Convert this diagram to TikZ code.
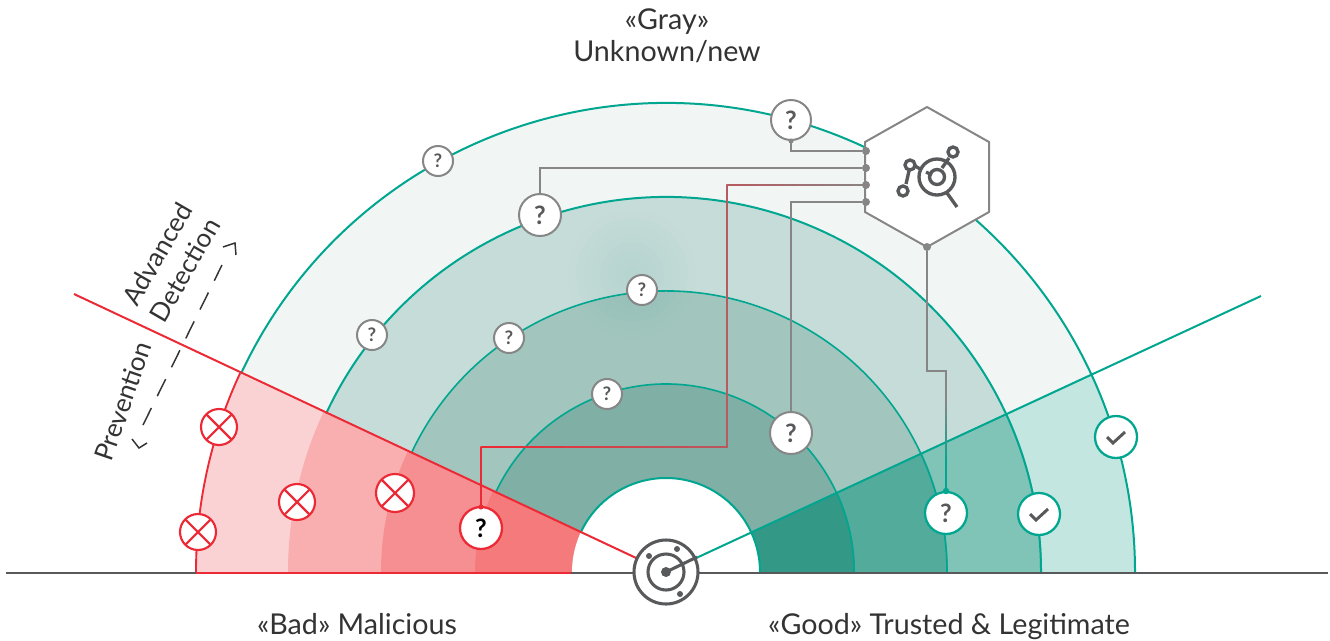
\documentclass[tikz,border=0pt]{standalone}
\usepackage{fontspec}
\setmainfont{Lato}
\usetikzlibrary{arrows.meta,calc}
\definecolor{grn}{HTML}{00A68F}
\definecolor{rd}{HTML}{EC2A36}
\definecolor{gry}{HTML}{868686}
\definecolor{dk}{HTML}{58595B}
\definecolor{ga}{HTML}{F1F6F5}
\definecolor{gb}{HTML}{C6DCD8}
\definecolor{gc}{HTML}{A2C6BE}
\definecolor{gd}{HTML}{7FAFA5}
\definecolor{ra}{HTML}{FBD2D4}
\definecolor{rb}{HTML}{F9AEAF}
\definecolor{rc}{HTML}{F68F91}
\definecolor{rdd}{HTML}{F47A7C}
\definecolor{ta}{HTML}{C3E6E0}
\definecolor{tb}{HTML}{80C4B8}
\definecolor{tc}{HTML}{52AB9B}
\definecolor{td}{HTML}{339886}
\tikzset{
  x=0.75pt,y=-0.75pt,
  lbl/.style={font=\fontsize{21.5}{24}\selectfont,text=black!80,align=center,inner sep=0},
  slbl/.style={lbl,font=\fontsize{19.5}{24}\selectfont},
  qbase/.style={circle,fill=white,inner sep=0,text=dk},
  qsmall/.style={qbase,draw=gry,line width=1.5pt,minimum size=30*0.75pt,font=\fontsize{14}{14}\selectfont\bfseries},
  qbig/.style={qbase,draw=gry,line width=1.5pt,minimum size=42*0.75pt,font=\fontsize{19}{19}\selectfont\bfseries},
  qgreen/.style={qbase,draw=grn,line width=1.7pt,minimum size=42*0.75pt,font=\fontsize{19}{19}\selectfont\bfseries},
  qred/.style={qbase,draw=rd,line width=1.7pt,minimum size=42*0.75pt,text=black,font=\fontsize{19}{19}\selectfont\bfseries},
  xnode/.style={circle,fill=white,draw=rd,line width=1.6pt,minimum size=36*0.75pt,inner sep=0,path picture={
     \draw[rd,line width=1.6pt] (path picture bounding box.north west)--(path picture bounding box.south east)
       (path picture bounding box.north east)--(path picture bounding box.south west);}},
  cknode/.style={circle,fill=white,draw=grn,line width=1.7pt,minimum size=42*0.75pt,inner sep=0,path picture={
     \draw[dk,line width=2.2pt] ($(path picture bounding box.center)+(-9,0)$)--++(6,6)--++(12,-11);}},
  conn/.style={gry,line width=1.5pt},
  dotn/.style={circle,fill=gry,inner sep=0,minimum size=8*0.75pt},
  ic/.style={dk,line width=2.5pt},
  tip/.style={black!80,line width=1.1pt},
}
\begin{document}
\begin{tikzpicture}
\useasboundingbox (0,0) rectangle (1330,640);
\coordinate (c) at (666,572);
% gray disc
\foreach \r/\col in {469/ga,375/gb,281/gc,188/gd}{
  \fill[\col] (c) ++(-155:\r) arc[start angle=-155,end angle=-25,radius=\r] -- (c) -- cycle;
}
% soft glow around the upper middle of the second band
\begin{scope}
\clip (c) ++(-155:375) arc[start angle=-155,end angle=-25,radius=375] -- (c) -- cycle;
\foreach \g in {8,16,...,64}{
  \fill[grn,opacity=0.006] (632,274) circle[radius=\g];
}
\end{scope}
\fill[gd] (c) ++(-155:188) arc[start angle=-155,end angle=-25,radius=188] -- (c) -- cycle;
% red sector
\foreach \r/\col in {470/ra,378/rb,285/rc,191/rdd}{
  \fill[\col] (c) ++(-180:\r) arc[start angle=-180,end angle=-155,radius=\r] -- (c) -- cycle;
}
% right sector
\foreach \r/\col in {469/ta,376/tb,282/tc,189/td}{
  \fill[\col] (c) ++(0:\r) arc[start angle=0,end angle=-25,radius=\r] -- (c) -- cycle;
}
\fill[white] (c) circle[radius=94];
% arcs
\foreach \r/\w in {469/1.5pt,375/1.5pt,281/1.2pt,188/1.2pt,94/1.5pt}{
  \draw[grn,line width=\w] (c) ++(-155:\r) arc[start angle=-155,end angle=0,radius=\r];
}
\draw[rd,line width=1.4pt] (c) ++(-180:470) arc[start angle=-180,end angle=-155,radius=470];
% base
\coordinate (bl) at (6,573);
\coordinate (br) at (1328,573);
\draw[dk,line width=1.4pt] (bl)--(br);
\draw[rd,line width=1.5pt] (196,573)--(571,573);
% rays
\coordinate (rayr) at (74,294);
\coordinate (rayg) at (1261,296);
\draw[rd,line width=1.5pt] (rayr)--(c);
\draw[grn,line width=1.5pt] (rayg)--(c);
% hexagon
\draw[gry,fill=white,line width=1.5pt] (927,107)--(989,142)--(989,212)--(927,247)--(865,212)--(865,142)--cycle;
% nodes
\node[qbig,minimum size=40*0.75pt] (q1) at (791,120) {?};
\node[qbig] (q2) at (540,215) {?};
\node[qbig] (q3) at (791,433) {?};
\node[qred] (q4) at (481,528) {?};
\node[qgreen] (q5) at (946,513) {?};
\node[qsmall] (s1) at (438,161) {?};
\node[qsmall] (s2) at (372,335) {?};
\node[qsmall] (s3) at (509,338) {?};
\node[qsmall] (s4) at (642,290) {?};
\node[qsmall] (s5) at (607,394) {?};
\node[cknode] (k1) at (1116,437) {};
\node[cknode] (k2) at (1039,514) {};
\node[xnode] (x1) at (219,427) {};
\node[xnode] (x2) at (198,532) {};
\node[xnode] (x3) at (297,502) {};
\node[xnode,minimum size=38*0.75pt] (x4) at (395,493) {};
% connector anchors
\node[dotn] (d1) at (866,151) {};
\node[dotn] (d2) at (866,168) {};
\node[dotn] (d3) at (866,185) {};
\node[dotn] (d4) at (866,202) {};
\node[dotn] (d5) at (927,247) {};
\draw[conn] (q1.south) |- (d1);
\draw[conn] (q2.north) |- (d2);
\draw[conn] (q3.north) |- (d4);
\coordinate (m1) at (481,447);
\coordinate (m2) at (727,447);
\coordinate (m3) at (727,185);
% connector from the red node: red fading to gray at the hexagon
\draw[rd,line width=1.5pt] (q4.north)--(m1);
\foreach \i [evaluate=\i as \xa using 481+\i*20.5, evaluate=\i as \xb using 481+(\i+1)*20.5, evaluate=\i as \p using 100-\i*4.5] in {0,...,11}{
  \draw[rd!\p!gry,line width=1.5pt,line cap=round] (\xa,447)--(\xb,447);
}
\draw[rd!46!gry,line width=1.5pt,line cap=round] (m2)--(m3);
\foreach \i [evaluate=\i as \xa using 727+\i*14, evaluate=\i as \xb using 727+(\i+1)*14, evaluate=\i as \p using 46-\i*4.6] in {0,...,9}{
  \draw[rd!\p!gry,line width=1.5pt,line cap=round] (\xa,185)--(\xb,185);
}
\coordinate (m4) at (927,371);
\coordinate (m5) at (946,371);
\draw[conn] (d5)--(m4)--(m5)--(946,400);
\foreach \i [evaluate=\i as \ya using 400+\i*6, evaluate=\i as \yb using 400+(\i+1)*6, evaluate=\i as \p using \i*10] in {0,...,10}{
  \draw[grn!\p!gry,line width=1.5pt] (946,\ya)--(946,\yb);
}
\draw[grn,line width=1.5pt] (946,466)--(q5.north);
\fill[grn] (946,491) circle[radius=3.2];
\fill[rd] (481,507) circle[radius=2.5];
\fill[gry] (791,141) circle[radius=2.5];
% hub icon
\draw[ic] (937,177) circle[radius=18];
\draw[ic] (937,177) circle[radius=7.5];
\draw[ic] (926,172)--(932,175);
\draw[ic] (942,168)--(949,158);
\draw[ic] (947,193)--(957,207);
\draw[ic] (906,184)--(909,171);
\draw[ic] (915,166)--(922,170);
\draw[ic,fill=white] (903,191) circle[radius=5];
\draw[ic,fill=white] (910,165) circle[radius=5];
\draw[ic,fill=white] (953,152) circle[radius=5];
% radar
\node[circle,draw=dk,fill=white,line width=2.3pt,minimum size=64*0.75pt,inner sep=0] (radar) at (666,572) {};
\draw[dk,line width=2.3pt] (c) circle[radius=18];
\fill[dk] (c) circle[radius=5];
\draw[dk,line width=2.3pt] (c)--(697,557);
\fill[dk] (649,556) circle[radius=3];
\fill[dk] (677,549) circle[radius=3];
\fill[dk] (680,594) circle[radius=3];
% labels
\node[lbl] (t1) at (667,22) {«Gray»};
\node[lbl] (t2) at (667,52) {Unknown/new};
\node[lbl] (t3) at (357,624) {«Bad» Malicious};
\node[lbl] (t4) at (949,627) {«Good» Trusted \& Legitimate};
\node[slbl,rotate=60] (t5) at (171,262) {Advanced\\Detection};
\node[slbl,rotate=71] (t6) at (123,401) {Prevention};
% double dashed arrow
\coordinate (a0) at (143,425);
\coordinate (a1) at (222,265);
\draw[black!80,line width=1.1pt,dash pattern=on 14.25pt off 9.9pt] (a0)--(a1);
\draw[tip] (132,439)--(139,448)--(147,443);
\draw[tip] (223,247)--(235,243)--(236,255);
\end{tikzpicture}
\end{document}
